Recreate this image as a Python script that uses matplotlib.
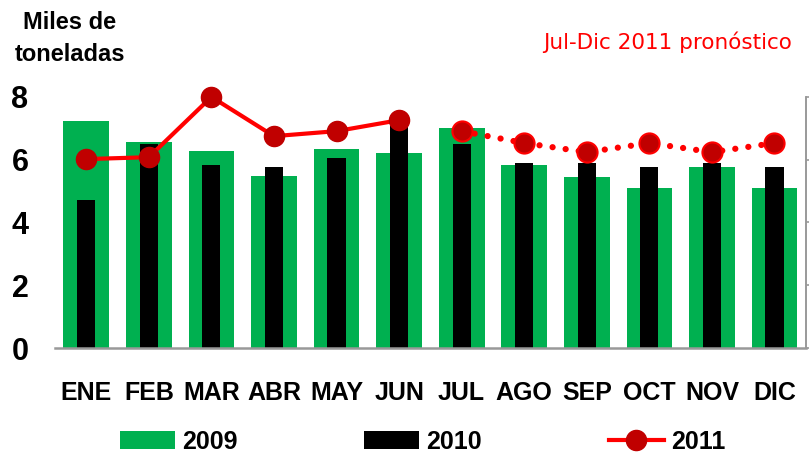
import matplotlib
matplotlib.use("Agg")
import matplotlib.pyplot as plt
import numpy as np

# datos (miles de toneladas)
meses = ['ENE', 'FEB', 'MAR', 'ABR', 'MAY', 'JUN', 'JUL', 'AGO', 'SEP', 'OCT', 'NOV', 'DIC']
v2009 = [7.23, 6.56, 6.27, 5.48, 6.34, 6.21, 7.00, 5.83, 5.45, 5.10, 5.76, 5.10]
v2010 = [4.71, 6.50, 5.83, 5.76, 6.05, 7.20, 6.50, 5.90, 5.90, 5.76, 5.90, 5.76]
v2011_real = [6.02, 6.08, 8.00, 6.75, 6.91, 7.26]
v2011_pron = [6.91, 6.53, 6.24, 6.53, 6.24, 6.53]

arial = ['Liberation Sans', 'DejaVu Sans']

fig = plt.figure(figsize=(8.09, 4.55), dpi=100)
ax = fig.add_axes([0.068, 0.235, 0.928, 0.552])

x = np.arange(len(meses))
b1 = ax.bar(x, v2009, width=0.73, color='#00B050', label='2009', zorder=1)
b2 = ax.bar(x, v2010, width=0.29, color='black', label='2010', zorder=2)

# 2011 real
l1, = ax.plot(x[:6], v2011_real, color='#FF0000', lw=3, marker='o', markersize=14.5,
              markerfacecolor='#C00000', markeredgecolor='#C00000', label='2011',
              zorder=4, clip_on=False)
# 2011 pronostico
ax.plot(x[6:], v2011_pron, color='#FF0000', lw=4.5, linestyle=(0, (0.01, 2.1)),
        dash_capstyle='round', zorder=3, clip_on=False)
ax.plot(x[6:], v2011_pron, linestyle='none', marker='o', markersize=14.5,
        markerfacecolor='#C00000', markeredgecolor='#FF0000', markeredgewidth=1.5,
        zorder=4, clip_on=False)

ax.set_xlim(-0.5, 11.5)
ax.set_ylim(0, 8)
ax.set_yticks([0, 2, 4, 6, 8])
ax.set_xticks(x)
ax.set_xticklabels(meses)
for lab in ax.get_xticklabels():
    lab.set_family(arial)
    lab.set_fontweight('bold')
    lab.set_fontsize(18)
for lab in ax.get_yticklabels():
    lab.set_family(arial)
    lab.set_fontweight('bold')
    lab.set_fontsize(22)
ax.tick_params(axis='x', length=0, pad=24)
ax.tick_params(axis='y', length=0, pad=19)

for s in ['left', 'top']:
    ax.spines[s].set_visible(False)
ax.spines['bottom'].set_color('#999999')
ax.spines['bottom'].set_linewidth(1.8)
ax.spines['right'].set_color('#999999')
ax.spines['right'].set_linewidth(1.2)

# eje derecho sin etiquetas
ax2 = ax.twinx()
ax2.set_ylim(0, 8)
ax2.set_yticks([0, 2, 4, 6, 8])
ax2.set_yticklabels([])
ax2.tick_params(axis='y', length=3, color='#999999', width=1.2)
for s in ['left', 'top', 'bottom']:
    ax2.spines[s].set_visible(False)
ax2.spines['right'].set_color('#999999')
ax2.spines['right'].set_linewidth(1.2)

fig.text(0.0865, 0.916, 'Miles de\ntoneladas', family=arial, fontweight='bold',
         fontsize=17, ha='center', va='center', multialignment='center',
         linespacing=1.5)
fig.text(0.671, 0.908, 'Jul-Dic 2011 pronóstico', color='#FF0000',
         fontsize=15.5, ha='left', va='center')

leg = ax.legend(handles=[b1, b2, l1], loc='center left', bbox_to_anchor=(0.073, -0.372),
                ncol=3, frameon=False,
                prop={'family': arial, 'weight': 'bold', 'size': 18},
                handlelength=2.2, handletextpad=0.28, columnspacing=5.08,
                borderaxespad=0)

fig.savefig('out.png', dpi=100)
